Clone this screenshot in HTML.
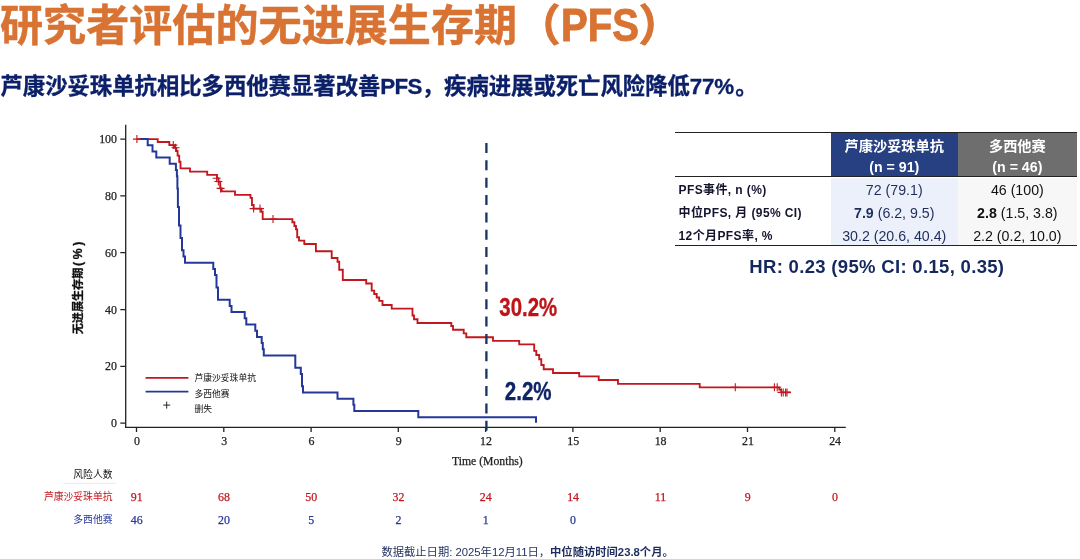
<!DOCTYPE html>
<html lang="zh"><head><meta charset="utf-8"><title>PFS</title>
<style>
html,body{margin:0;padding:0;background:#fff;}
body{width:1080px;height:559px;position:relative;overflow:hidden;font-family:"Liberation Sans","Noto Sans CJK SC",sans-serif;}
.abs{position:absolute;white-space:nowrap;}
#title{left:0px;top:-6px;-webkit-text-stroke:0.5px #D87333;font-size:43.1px;font-weight:bold;color:#D87333;line-height:64px;}
#sub{left:0.5px;top:71px;font-size:22.35px;-webkit-text-stroke:0.3px #0C2069;font-weight:bold;color:#0C2069;line-height:32px;}
#tb{position:absolute;left:675px;top:0;width:402px;height:260px;font-size:14.2px;}
#tb .ln{position:absolute;left:0;width:402px;height:1.3px;background:#222;z-index:3;}
#tb .bg{position:absolute;margin-top:131.9px;}
#tb .c{position:absolute;height:20px;line-height:20px;text-align:center;white-space:nowrap;z-index:2;}
#tb .h{color:#fff;font-weight:bold;}
#tb .l{left:3.5px;text-align:left;font-weight:bold;font-size:12px;letter-spacing:0.4px;color:#14142E;}
#tb .a{left:155.8px;width:126.9px;color:#1F2D5C;}
#tb .b{left:282.7px;width:119.3px;color:#111;}
#title .pf{display:inline-block;font-size:45.5px;line-height:40px;-webkit-text-stroke:0.9px #D87333;transform:scaleX(0.88);transform-origin:0 50%;margin-right:-10.5px;margin-left:1px;}
#title .p1,#title .p2{-webkit-text-stroke:1.1px #D87333;}
#title .p2{margin-left:-0.5px}
#hr{left:749.3px;top:256px;font-size:18.5px;letter-spacing:0.32px;font-weight:bold;color:#14285F;line-height:22px;}
#foot{left:381.4px;top:544.4px;font-size:11.3px;color:#1F2D5C;line-height:16px;}
</style></head><body>
<div id="title" class="abs">研究者评估的无进展生存期<span class="p1">（</span><span class="pf">PFS</span><span class="p2">）</span></div>
<div id="sub" class="abs">芦康沙妥珠单抗相比多西他赛显著改善<span style="letter-spacing:-0.7px">PFS</span>，疾病进展或死亡风险降低<span style="letter-spacing:-0.2px">77%</span><span style="margin-left:1.2px">。</span></div>
<svg width="1080" height="559" viewBox="0 0 1080 559" style="position:absolute;left:0;top:0">
<g stroke="#222" stroke-width="1.3" fill="none">
<path d="M125.7 124.7V427.3H845.8"/>
<path d="M120.3 423.2H125.6M120.3 366.4H125.6M120.3 309.6H125.6M120.3 252.7H125.6M120.3 195.9H125.6M120.3 139.1H125.6M136.5 427.3V432.0M223.8 427.3V432.0M311.1 427.3V432.0M398.3 427.3V432.0M485.6 427.3V432.0M572.9 427.3V432.0M660.2 427.3V432.0M747.5 427.3V432.0M834.8 427.3V432.0"/>
</g>
<g font-family="'Liberation Serif',serif" font-size="11.9" fill="#222" stroke="#222" stroke-width="0.25">
<text x="117" y="427.2" text-anchor="end">0</text>
<text x="117" y="370.4" text-anchor="end">20</text>
<text x="117" y="313.6" text-anchor="end">40</text>
<text x="117" y="256.7" text-anchor="end">60</text>
<text x="117" y="199.9" text-anchor="end">80</text>
<text x="117" y="143.1" text-anchor="end">100</text>
<text x="136.9" y="444.9" text-anchor="middle">0</text>
<text x="224.2" y="444.9" text-anchor="middle">3</text>
<text x="311.5" y="444.9" text-anchor="middle">6</text>
<text x="398.7" y="444.9" text-anchor="middle">9</text>
<text x="486.0" y="444.9" text-anchor="middle">12</text>
<text x="573.3" y="444.9" text-anchor="middle">15</text>
<text x="660.6" y="444.9" text-anchor="middle">18</text>
<text x="747.9" y="444.9" text-anchor="middle">21</text>
<text x="835.1" y="444.9" text-anchor="middle">24</text>
<text x="487.4" y="465" text-anchor="middle" font-size="11.7">Time (Months)</text>
</g>
<text transform="translate(81.8 334.3) rotate(-90)" font-family="'Liberation Sans','Noto Sans CJK SC',sans-serif" font-weight="bold" font-size="11.1" fill="#111" stroke="#111" stroke-width="0.3">无进展生存期<tspan x="68.3" font-size="12.3" letter-spacing="2.6">(%)</tspan></text>
<path d="M136.7 139.1 H157.7 V142.0 H169.3 V145.1 H174.3 V147.8 H176.3 V151.0 H177.6 V155.6 H179.2 V161.7 H180.5 V168.3 H190.0 V171.6 H207.2 V174.8 H217.0 V178.3 H218.5 V181.6 H220.2 V188.3 H221.7 V191.3 H235.0 V194.9 H250.5 V197.8 H252.0 V205.0 H253.6 V208.6 H261.2 V211.7 H262.7 V219.1 H292.4 V222.2 H294.4 V226.0 H296.0 V229.4 H297.2 V237.2 H299.0 V240.6 H304.3 V244.0 H315.9 V251.2 H331.7 V258.0 H337.5 V261.7 H339.2 V269.7 H342.8 V280.0 H366.2 V283.5 H371.7 V290.6 H374.2 V294.0 H376.7 V297.5 H379.2 V300.8 H382.5 V305.0 H391.7 V308.6 H412.5 V315.5 H414.0 V319.2 H417.5 V323.0 H451.3 V326.0 H453.0 V329.7 H463.7 V333.3 H466.3 V337.2 H493.0 V340.8 H519.2 V344.4 H534.2 V350.8 H536.3 V355.0 H539.2 V359.2 H541.3 V365.0 H543.7 V369.2 H553.0 V373.0 H579.2 V376.4 H598.7 V380.0 H618.0 V383.8 H699.7 V387.3 H779.3 V389.6 H781.2 V392.4 H790.6" fill="none" stroke="#C2171E" stroke-width="1.85" stroke-linejoin="miter"/>
<path d="M140.5 139.1 H147.7 V145.3 H152.5 V151.5 H156.3 V157.6 H169.7 V163.8 H175.9 V170.0 H176.9 V176.2 H177.4 V188.5 H177.9 V207.1 H179.0 V225.6 H180.5 V238.0 H182.0 V250.3 H183.5 V256.5 H185.0 V262.7 H213.3 V268.9 H215.0 V275.1 H216.5 V287.4 H218.0 V299.8 H229.7 V306.0 H231.5 V312.1 H244.7 V318.3 H246.3 V324.5 H255.3 V330.7 H257.0 V336.9 H261.7 V343.0 H262.8 V349.2 H263.8 V355.4 H295.3 V367.8 H300.8 V373.9 H302.0 V386.3 H303.0 V392.5 H337.5 V398.7 H353.4 V404.8 H354.3 V411.0 H418.3 V417.2 H536.0 V422.8" fill="none" stroke="#25389A" stroke-width="2" stroke-linejoin="miter"/>
<path d="M132.9 139.1h8.0M136.9 135.1v8.0M169.3 145.1h8.0M173.3 141.1v8.0M171.6 147.8h8.0M175.6 143.8v8.0M212.6 178.2h8.0M216.6 174.2v8.0M214.4 181.5h8.0M218.4 177.5v8.0M216.6 188.4h8.0M220.6 184.4v8.0M249.6 208.6h8.0M253.6 204.6v8.0M256.0 208.6h8.0M260.0 204.6v8.0M269.0 219.1h8.0M273.0 215.1v8.0M731.3 387.3h8.0M735.3 383.3v8.0M770.4 387.3h8.0M774.4 383.3v8.0M773.2 387.3h8.0M777.2 383.3v8.0M777.4 392.4h8.0M781.4 388.4v8.0M779.2 392.4h8.0M783.2 388.4v8.0M781.6 392.4h8.0M785.6 388.4v8.0M783.0 392.4h8.0M787.0 388.4v8.0" fill="none" stroke="#C2171E" stroke-width="1.1"/>
<path d="M486.4 142.9V431" stroke="#143560" stroke-width="2.3" stroke-dasharray="10 7.37" fill="none"/>
<path d="M145.6 377.8H188.4" stroke="#C2171E" stroke-width="1.8"/>
<path d="M145.6 391.6H188.4" stroke="#25389A" stroke-width="1.8"/>
<path d="M163.2 405.1h7M166.7 401.6v7" stroke="#222" stroke-width="1" fill="none"/>
<g font-family="'Liberation Sans','Noto Sans CJK SC',sans-serif" font-weight="400" font-size="8.8" fill="#111">
<text x="194.4" y="380.6">芦康沙妥珠单抗</text>
<text x="194.4" y="396.6">多西他赛</text>
<text x="194.4" y="411.8">删失</text>
</g>
<g font-family="'Liberation Sans',sans-serif" font-weight="bold" font-size="26" stroke-width="0.35">
<text x="499.3" y="316.1" fill="#BE1418" stroke="#BE1418" textLength="57.8" lengthAdjust="spacingAndGlyphs">30.2%</text>
<text x="504.8" y="399.5" fill="#0F2566" stroke="#0F2566" textLength="46.8" lengthAdjust="spacingAndGlyphs">2.2%</text>
</g>
<path d="M63.2 483.3H116.5" stroke="#e6e6e6" stroke-width="0.8"/>
<g font-family="'Liberation Sans','Noto Sans CJK SC',sans-serif" font-size="9.8" text-anchor="end" font-weight="400">
<text x="112.5" y="478.3" fill="#111">风险人数</text>
<text x="112.5" y="500" fill="#C2171E">芦康沙妥珠单抗</text>
<text x="112.5" y="523.3" fill="#25389A">多西他赛</text>
</g>
<g font-family="'Liberation Serif',serif" font-size="11.9" text-anchor="middle" stroke-width="0.25">
<text x="136.7" y="501.0" fill="#C2171E" stroke="#C2171E">91</text>
<text x="224.0" y="501.0" fill="#C2171E" stroke="#C2171E">68</text>
<text x="311.3" y="501.0" fill="#C2171E" stroke="#C2171E">50</text>
<text x="398.5" y="501.0" fill="#C2171E" stroke="#C2171E">32</text>
<text x="485.8" y="501.0" fill="#C2171E" stroke="#C2171E">24</text>
<text x="573.1" y="501.0" fill="#C2171E" stroke="#C2171E">14</text>
<text x="660.4" y="501.0" fill="#C2171E" stroke="#C2171E">11</text>
<text x="747.7" y="501.0" fill="#C2171E" stroke="#C2171E">9</text>
<text x="835.0" y="501.0" fill="#C2171E" stroke="#C2171E">0</text>
<text x="136.7" y="524.0" fill="#25389A" stroke="#25389A">46</text>
<text x="224.0" y="524.0" fill="#25389A" stroke="#25389A">20</text>
<text x="311.3" y="524.0" fill="#25389A" stroke="#25389A">5</text>
<text x="398.5" y="524.0" fill="#25389A" stroke="#25389A">2</text>
<text x="485.8" y="524.0" fill="#25389A" stroke="#25389A">1</text>
<text x="573.1" y="524.0" fill="#25389A" stroke="#25389A">0</text>
</g>
</svg>
<div id="tb">
<div class="ln" style="top:131.9px"></div><div class="ln" style="top:175.8px"></div><div class="ln" style="top:244.9px"></div>
<div class="bg" style="left:155.8px;width:126.9px;top:1.2px;height:43.6px;background:#264081"></div>
<div class="bg" style="left:282.7px;width:119.3px;top:1.2px;height:43.6px;background:#6E6E6E"></div>
<div class="bg" style="left:155.8px;width:126.9px;top:46.6px;height:66.9px;background:#ECF0FA"></div>
<div class="bg" style="left:282.7px;width:119.3px;top:46.6px;height:66.9px;background:#F7F7F7"></div>
<div class="c h" style="left:155.8px;width:126.9px;top:135.6px">芦康沙妥珠单抗</div>
<div class="c h" style="left:155.8px;width:126.9px;top:157.2px">(n = 91)</div>
<div class="c h" style="left:282.7px;width:119.3px;top:135.6px">多西他赛</div>
<div class="c h" style="left:282.7px;width:119.3px;top:157.2px">(n = 46)</div>
<div class="c l" style="top:180.4px">PFS事件, n (%)</div>
<div class="c l" style="top:203px">中位PFS, 月 (95% CI)</div>
<div class="c l" style="top:226.1px">12个月PFS率, %</div>
<div class="c a" style="top:180.4px">72 (79.1)</div>
<div class="c a" style="top:203px"><b>7.9</b> (6.2, 9.5)</div>
<div class="c a" style="top:226.1px">30.2 (20.6, 40.4)</div>
<div class="c b" style="top:180.4px">46 (100)</div>
<div class="c b" style="top:203px"><b>2.8</b> (1.5, 3.8)</div>
<div class="c b" style="top:226.1px">2.2 (0.2, 10.0)</div>
</div>
<div id="hr" class="abs">HR: 0.23 (95% CI: 0.15, 0.35)</div>
<div id="foot" class="abs">数据截止日期: 2025年12月11日，<b>中位随访时间23.8个月。</b></div>
</body></html>
